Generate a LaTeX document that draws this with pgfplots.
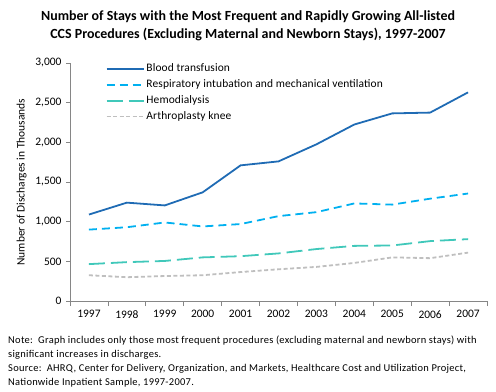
\documentclass[border=0pt]{standalone}
\usepackage{pgfplots}
\pgfplotsset{compat=1.18}
\usepackage{fontspec}
\setmainfont{Carlito}
\newfontfamily\notefont[LetterSpace=2.6]{Carlito}
\newfontfamily\legfont[LetterSpace=1.1]{Carlito}
\definecolor{cBlood}{RGB}{31,107,180}
\definecolor{cResp}{RGB}{0,176,240}
\definecolor{cHemo}{RGB}{64,200,186}
\definecolor{cKnee}{RGB}{191,191,191}
\definecolor{cAxis}{RGB}{134,134,134}
\tikzset{
  sBlood/.style={color=cBlood, line width=1.8pt, solid},
  sResp/.style={color=cResp, line width=1.8pt, dash pattern=on 8bp off 5bp},
  sHemo/.style={color=cHemo, line width=1.8pt, dash pattern=on 16bp off 6bp},
  sKnee/.style={color=cKnee, line width=1.8pt, dash pattern=on 4bp off 2.5bp},
}
\begin{document}
\begin{tikzpicture}[x=1bp,y=1bp]
\useasboundingbox (0,0) rectangle (496,-391);
\begin{axis}[
  at={(70bp,-301bp)}, anchor=south west,
  scale only axis, width=417bp, height=238bp,
  xmin=-0.5, xmax=10.5, ymin=0, ymax=3000,
  xtick={0,...,10},
  xticklabels={1997,1998,1999,2000,2001,2002,2003,2004,2005,2006,2007},
  minor xtick={-0.5,0.5,...,10.5},
  ytick={0,500,...,3000},
  /pgf/number format/assume math mode=true,
  /pgf/number format/1000 sep={,},
  axis x line*=bottom, axis y line*=left,
  axis line style={cAxis, line width=0.8pt, -},
  major x tick style={draw=none},
  minor x tick style={cAxis, line width=0.8pt},
  major y tick style={cAxis, line width=0.8pt},
  tick align=outside,
  major tick length=4bp, minor tick length=5bp,
  tick label style={font=\fontsize{11.5}{13}\selectfont, black},
  xticklabel style={yshift=-2bp},
  yticklabel style={xshift=-1bp},
  ylabel={Number of Discharges in Thousands},
  every axis y label/.style={at={(ticklabel cs:0.5)}, rotate=90, anchor=south, yshift=2bp,
     font=\fontsize{11.5}{13}\selectfont},
  legend cell align=left,
  legend style={draw=none, fill=none, at={(0.085,1.005)}, anchor=north west,
    font=\legfont\fontsize{11.5}{13}\selectfont, row sep=2.5bp, inner sep=0pt,
    /tikz/every even column/.append style={column sep=1bp}},
  clip=false,
]
\addplot[sBlood, legend image code/.code={\draw[sBlood] (0bp,0bp) -- (37bp,0bp);}] coordinates {
 (0,1090) (1,1240) (2,1205) (3,1370) (4,1710) (5,1760) (6,1975) (7,2225) (8,2365) (9,2375) (10,2630)};
\addlegendentry{Blood transfusion}
\addplot[sResp, legend image code/.code={\draw[sResp] (0bp,0bp) -- (37bp,0bp);}] coordinates {
 (0,900) (1,930) (2,990) (3,940) (4,970) (5,1070) (6,1120) (7,1230) (8,1215) (9,1290) (10,1355)};
\addlegendentry{Respiratory intubation and mechanical ventilation}
\addplot[sHemo, legend image code/.code={\draw[sHemo] (0bp,0bp) -- (37bp,0bp);}] coordinates {
 (0,465) (1,490) (2,505) (3,550) (4,565) (5,600) (6,655) (7,695) (8,700) (9,755) (10,780)};
\addlegendentry{Hemodialysis}
\addplot[sKnee, legend image code/.code={\draw[sKnee] (0bp,0bp) -- (37bp,0bp);}] coordinates {
 (0,325) (1,300) (2,315) (3,325) (4,365) (5,400) (6,430) (7,480) (8,550) (9,540) (10,610)};
\addlegendentry{Arthroplasty knee}
\end{axis}
\node[font=\fontsize{14}{18}\selectfont\bfseries, align=center, anchor=center] at (248,-26)
  {Number of Stays with the Most Frequent and Rapidly Growing All-listed\\CCS Procedures (Excluding Maternal and Newborn Stays), 1997-2007};
\node[font=\notefont\fontsize{10.5}{14}\selectfont, align=left, anchor=north west, inner sep=0pt] at (8,-336)
  {Note:\ \ Graph includes only those most frequent procedures (excluding maternal and newborn stays) with\\
   significant increases in discharges.\\
   Source:\ \ AHRQ, Center for Delivery, Organization, and Markets, Healthcare Cost and Utilization Project,\\
   Nationwide Inpatient Sample, 1997-2007.};
\end{tikzpicture}
\end{document}
